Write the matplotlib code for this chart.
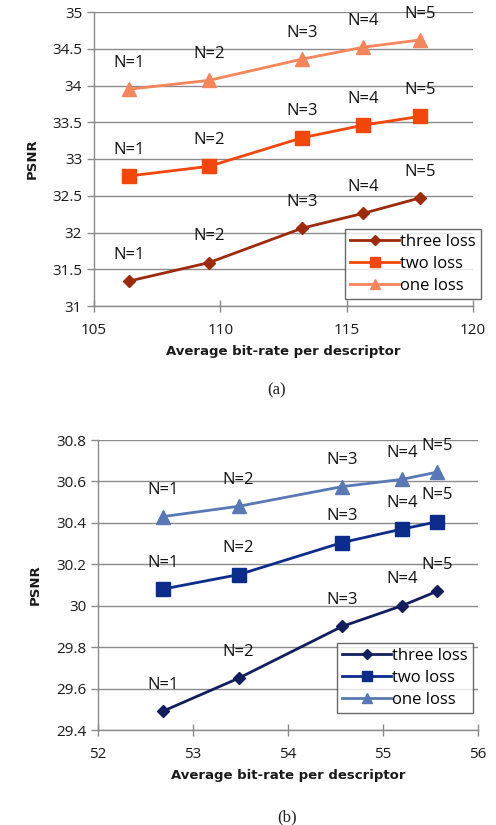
import matplotlib
matplotlib.use("Agg")
import matplotlib.pyplot as plt

# ---- data (a) ----
xa = [106.4, 109.55, 113.25, 115.65, 117.9]
a_three = [31.34, 31.59, 32.06, 32.26, 32.47]
a_two = [32.77, 32.90, 33.29, 33.46, 33.58]
a_one = [33.95, 34.07, 34.36, 34.52, 34.62]
ya_ticks = [31, 31.5, 32, 32.5, 33, 33.5, 34, 34.5, 35]
ya_ticklabels = ["31", "31.5", "32", "32.5", "33", "33.5", "34", "34.5", "35"]
xa_ticks = [105, 110, 115, 120]

# ---- data (b) ----
xb = [52.68, 53.48, 54.57, 55.2, 55.57]
b_three = [29.49, 29.65, 29.90, 30.00, 30.07]
b_two = [30.08, 30.15, 30.305, 30.37, 30.405]
b_one = [30.43, 30.48, 30.575, 30.61, 30.645]
yb_ticks = [29.4, 29.6, 29.8, 30.0, 30.2, 30.4, 30.6, 30.8]
yb_ticklabels = ["29.4", "29.6", "29.8", "30", "30.2", "30.4", "30.6", "30.8"]
xb_ticks = [52, 53, 54, 55, 56]

n_labels = ["N=1", "N=2", "N=3", "N=4", "N=5"]
series_names = ["three loss", "two loss", "one loss"]
xlabel = "Average bit-rate per descriptor"
ylabel = "PSNR"

colors_a = ["#9E2A0C", "#F2460A", "#F5855A"]
colors_b = ["#101E5E", "#0C2C8C", "#5878B6"]
markers = ["D", "s", "^"]
msizes = [6.5, 9.5, 9.5]

W, H = 496, 825
fig = plt.figure(figsize=(W / 100, H / 100), dpi=100)
plt.rcParams["font.family"] = ["Open Sans", "DejaVu Sans"]


def make_axes(rect_px, x, ys, colors, xticks, yticks, yticklabels, xlim, ylim,
              leg_anchor):
    l, r, t, b = rect_px
    ax = fig.add_axes([l / W, 1 - b / H, (r - l) / W, (b - t) / H])
    for i, (yv, c) in enumerate(zip(ys, colors)):
        ax.plot(x, yv, color=c, lw=2.0, marker=markers[i], ms=msizes[i],
                mec=c, mfc=c, label=series_names[i], zorder=3)
        for xi, yi, lab in zip(x, yv, n_labels):
            ax.annotate(lab, (xi, yi), xytext=(0, 19), textcoords="offset points",
                        ha="center", va="center", fontsize=12, color="#111111",
                        zorder=4)
    ax.set_xlim(*xlim)
    ax.set_ylim(*ylim)
    ax.set_xticks(xticks)
    ax.set_yticks(yticks)
    ax.set_yticklabels(yticklabels)
    ax.grid(axis="y", color="#8a8a8a", lw=1.0, zorder=0)
    for s in ["top", "right"]:
        ax.spines[s].set_visible(False)
    for s in ["left", "bottom"]:
        ax.spines[s].set_color("#8a8a8a")
        ax.spines[s].set_linewidth(1.0)
    ax.tick_params(axis="both", colors="#8a8a8a", labelcolor="#1a1a1a",
                   labelsize=11, length=5, width=1.0)
    ax.tick_params(axis="x", direction="inout", length=8, pad=8)
    ax.set_xlabel(xlabel, fontsize=9.5, fontweight="bold", color="#1a1a1a",
                  family=["DejaVu Sans"], labelpad=5)
    ax.set_ylabel(ylabel, fontsize=9.5, fontweight="bold", color="#1a1a1a",
                  family=["DejaVu Sans"], labelpad=10)
    leg = ax.legend(loc="upper right", bbox_to_anchor=leg_anchor, fontsize=12,
                    frameon=True, fancybox=False, edgecolor="#444444",
                    handlelength=2.9, handletextpad=0.1, borderpad=0.3,
                    labelspacing=0.35, borderaxespad=0, markerscale=0.8)
    leg.get_frame().set_linewidth(1.0)
    leg.set_zorder(5)
    return ax


ax_a = make_axes((94, 473, 12, 306), xa, [a_three, a_two, a_one], colors_a,
                 xa_ticks, ya_ticks, ya_ticklabels, (105, 120), (31, 35),
                 (1.021, 0.262))
ax_b = make_axes((98, 478, 440, 730), xb, [b_three, b_two, b_one], colors_b,
                 xb_ticks, yb_ticks, yb_ticklabels, (52, 56), (29.4, 30.8),
                 (0.987, 0.30))

fig.text(277 / W, 1 - 390 / H, "(a)", ha="center", va="center", fontsize=12,
         family=["Liberation Serif"], color="#222222")
fig.text(287 / W, 1 - 817 / H, "(b)", ha="center", va="center", fontsize=12,
         family=["Liberation Serif"], color="#222222")

fig.savefig("out.png", dpi=100)
